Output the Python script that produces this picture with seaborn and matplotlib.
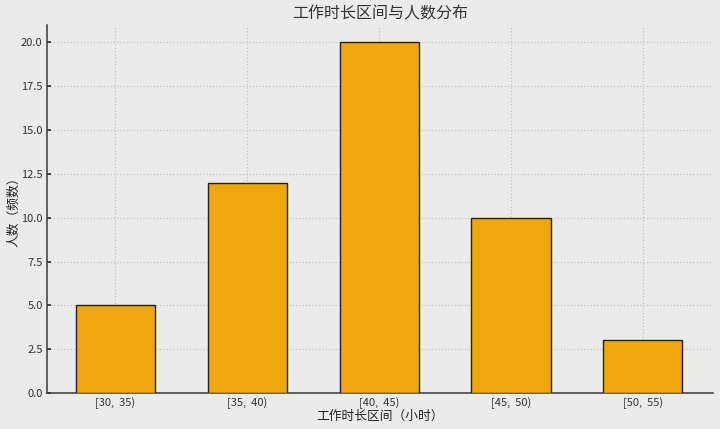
import matplotlib
matplotlib.use("Agg")
import matplotlib.pyplot as plt
import seaborn as sns
import pandas as pd

categories = ["[30,  35)", "[35,  40)", "[40,  45)", "[45,  50)", "[50,  55)"]
counts = [5, 12, 20, 10, 3]

sns.set_theme(style="whitegrid")
plt.rcParams['font.family'] = ['Noto Sans CJK SC', 'DejaVu Sans']
plt.rcParams['axes.unicode_minus'] = False

bg = "#ebebeb"
fig = plt.figure(figsize=(7.2, 4.29), dpi=100, facecolor=bg)
ax = fig.add_axes([0.065, 0.084, 0.925, 0.858])
ax.set_facecolor(bg)

df = pd.DataFrame({"interval": categories, "count": counts})
sns.barplot(data=df, x="interval", y="count", color="#eea70e", saturation=1,
            width=0.6, edgecolor="#222222", linewidth=1.0, ax=ax, zorder=3)

ax.set_xlim(-0.52, 4.53)
ax.set_ylim(0, 21)
ticks = [0, 2.5, 5, 7.5, 10, 12.5, 15, 17.5, 20]
ax.set_yticks(ticks)
ax.set_yticklabels([f"{v:.1f}" for v in ticks])

ax.grid(True, linestyle=":", color="#c4c4c4", linewidth=0.9, zorder=0)
for s in ["top", "right"]:
    ax.spines[s].set_visible(False)
for s in ["left", "bottom"]:
    ax.spines[s].set_visible(True)
    ax.spines[s].set_color("#3a3a3a")
    ax.spines[s].set_linewidth(1.1)

ax.tick_params(axis="both", direction="in", length=3, labelsize=8,
               colors="#333333", left=True, bottom=True, pad=3)
ax.set_title("工作时长区间与人数分布", fontsize=11.5, color="#333333", pad=5)
ax.set_xlabel("工作时长区间（小时）", fontsize=9.2, color="#222222", labelpad=1)
ax.set_ylabel("人数（频数）", fontsize=9.2, color="#222222")
ax.yaxis.set_label_coords(-0.04, 0.5)

fig.savefig("out.png", dpi=100, facecolor=bg)
